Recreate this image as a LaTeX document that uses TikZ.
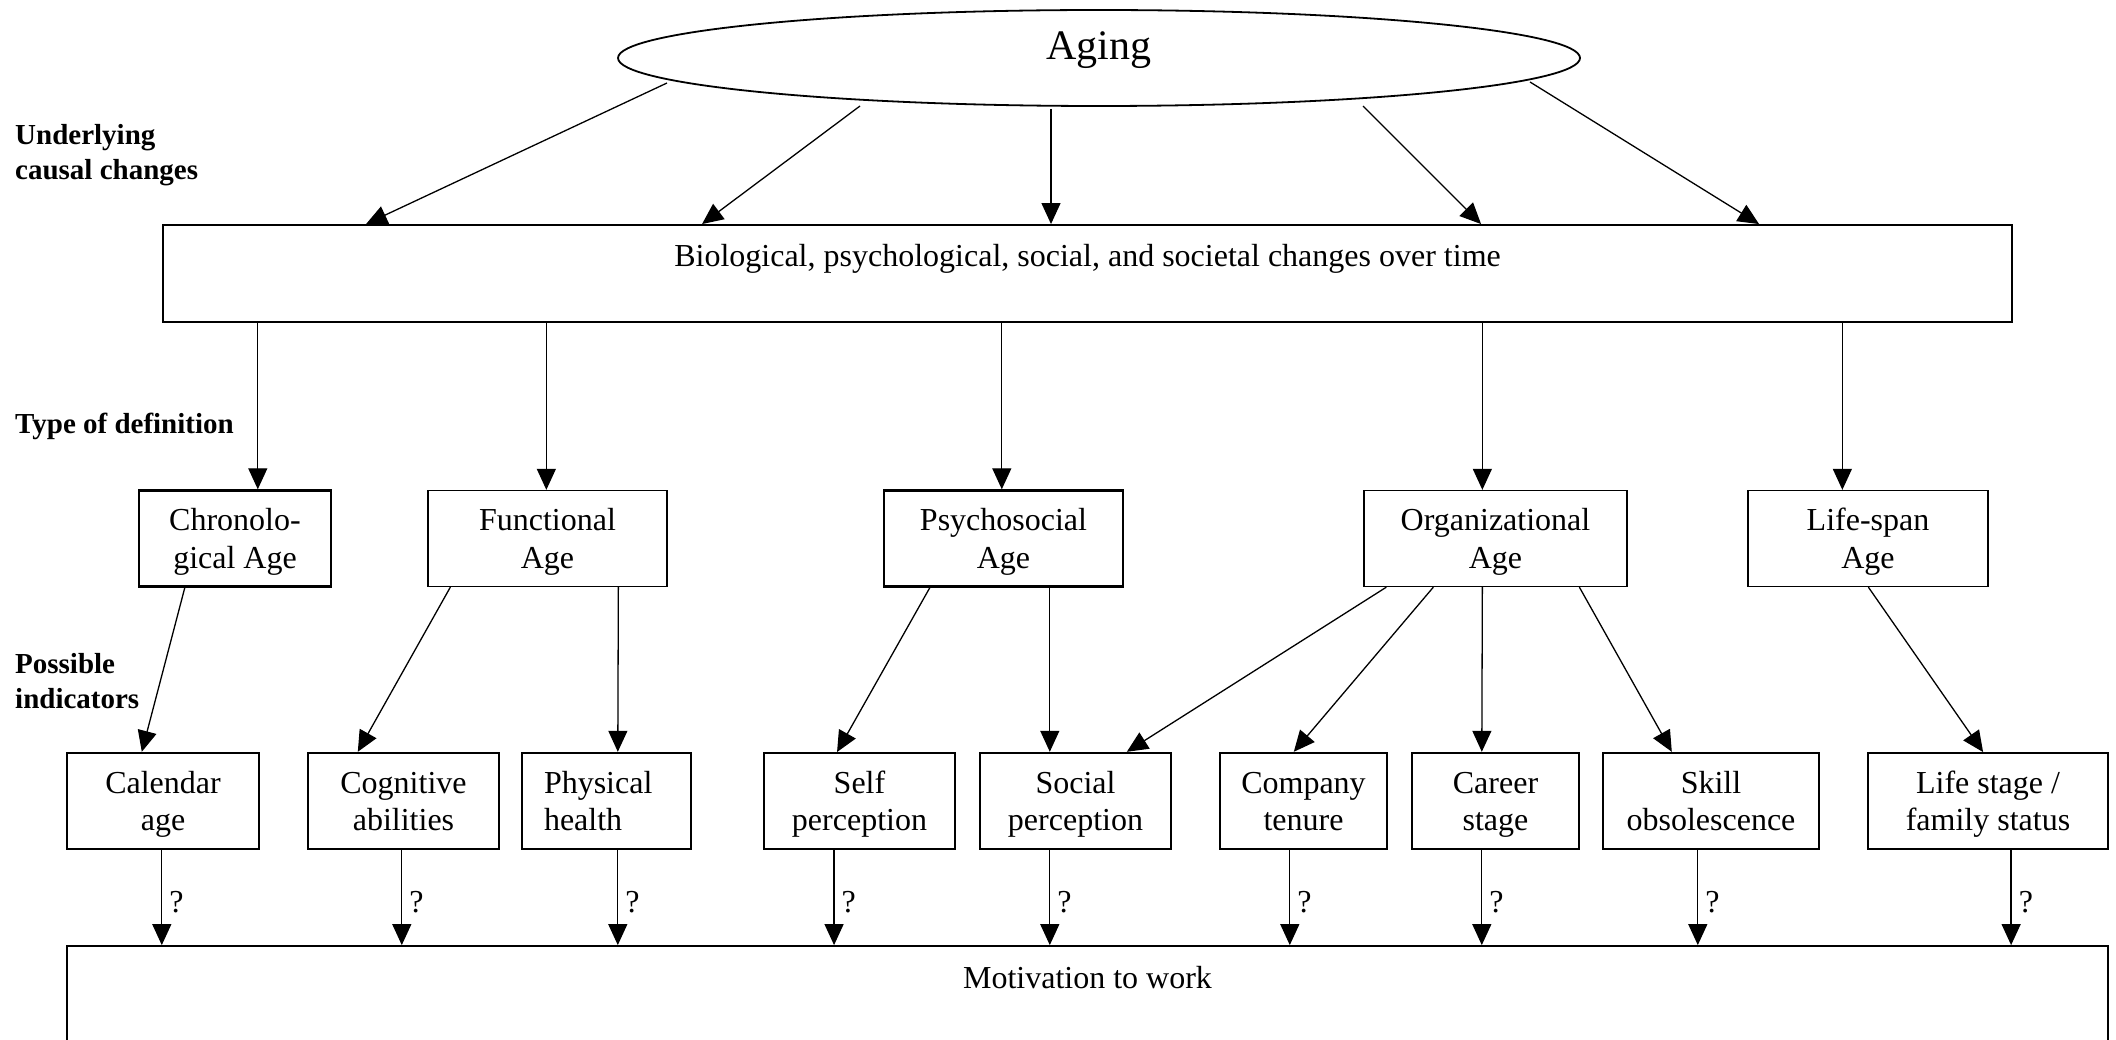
\documentclass[tikz,border=0pt]{standalone}
\usepackage{fontspec}
\setmainfont{Liberation Serif}
\usetikzlibrary{arrows.meta,calc,shapes.geometric}
\newcommand\tstr{\rule{0pt}{29pt}}
\newcommand\istr{\rule{0pt}{31pt}}
\newcommand\dstr{\rule[-9pt]{0pt}{9pt}}
\begin{document}
\begin{tikzpicture}[x=1pt,y=-1pt,
  every node/.style={font=\fontsize{32}{37.8}\selectfont},
  boxthick/.style={draw, line width=2.4pt, inner sep=0pt, align=center, minimum height=96pt},
  boxthin/.style={draw, line width=1.3pt, inner sep=0pt, align=center, minimum height=96pt},
  arr/.style={-{Triangle[length=21pt,width=19pt]}, line width=1.3pt},
  lab/.style={font=\fontsize{29}{35}\selectfont\bfseries, anchor=west, align=left, inner sep=0pt},
  qm/.style={anchor=west, inner sep=0pt, xshift=7pt}
]
\clip (0,0) rectangle (2116,1040);
\fill[white] (0,0) rectangle (2116,1040);

% side labels
\node[lab] (l1) at (15,155) {Underlying\\causal changes};
\node[lab] (l2) at (15,426) {Type of definition};
\node[lab] (l3) at (15,681) {Possible\\indicators};

% top
\node[ellipse, draw, line width=1.8pt, minimum width=962pt, minimum height=96pt, inner sep=0pt,
  text height=14pt, text depth=10pt, font=\fontsize{42}{48}\selectfont] (aging) at (1099,58) {Aging};
\node[draw, line width=1.9pt, inner sep=0pt, minimum width=1849pt, text height=42pt, text depth=55pt] (top) at (1087.5,273.5) {Biological, psychological, social, and societal changes over time};

% type boxes
\node[boxthick, minimum width=192pt] (chrono) at (235,538.5) {\tstr Chronolo-\\gical Age};
\node[boxthin, minimum width=239pt] (func) at (547.5,538.5) {\tstr Functional\\Age};
\node[boxthick, minimum width=239pt] (psych) at (1003.5,538.5) {\tstr Psychosocial\\Age};
\node[boxthin, minimum width=263pt] (org) at (1495.5,538.5) {\tstr Organizational\\Age};
\node[boxthin, minimum width=240pt] (life) at (1868,538.5) {\tstr Life-span\\Age};

% indicator boxes
\node[boxthick, minimum width=192pt] (cal) at (163,801) {\istr Calendar\\age\dstr};
\node[boxthick, minimum width=191pt] (cog) at (403.5,801) {\istr Cognitive\\abilities\dstr};
\node[boxthick, text width=125pt, inner xsep=22pt, align=left] (phys) at (606.5,801) {\istr Physical\\health\dstr};
\node[boxthick, minimum width=191pt, line width=1.9pt] (self) at (859.5,801) {\istr Self\\perception\dstr};
\node[boxthick, minimum width=191pt] (soc) at (1075.5,801) {\istr Social\\perception\dstr};
\node[boxthick, minimum width=167pt] (comp) at (1303.5,801) {\istr Company\\tenure\dstr};
\node[boxthick, minimum width=167pt] (car) at (1495.5,801) {\istr Career\\stage\dstr};
\node[boxthick, minimum width=216pt] (skill) at (1711,801) {\istr Skill\\obsolescence\dstr};
\node[boxthick, minimum width=240pt, line width=1.8pt] (lifest) at (1988,801) {\istr Life stage /\\family status\dstr};

% motivation
\node[draw, line width=1.8pt, inner sep=0pt, minimum width=2041pt, text height=42pt, text depth=82pt] (mot) at (1087.5,1008) {Motivation to work};

% aging -> top
\draw[arr] ($(aging.center)+(-432,25)$) -- ($(top.north west)+(204,0)$);
\draw[arr] ($(aging.center)+(-239,48)$) -- ($(top.north west)+(540,0)$);
\coordinate (a3) at ($(aging.center)+(-48,51)$);
\draw[arr] (a3) -- (a3 |- top.north);
\draw[arr] ($(aging.center)+(264,48)$) -- ($(top.north west)+(1319,0)$);
\draw[arr] ($(aging.center)+(431,24)$) -- ($(top.north west)+(1597,0)$);

% top -> types
\foreach \n/\d in {chrono/120, func/119, psych/119, org/119, life/95}{
  \coordinate (t-\n) at ($(\n.north west)+(\d,0)$);
  \draw[arr] (t-\n |- top.south) -- (t-\n);
}

% types -> indicators
\draw[arr] ($(chrono.south west)+(47,0)$) -- ($(cal.north west)+(76,0)$);
\draw[arr] ($(func.south west)+(23,0)$) -- ($(cog.north west)+(51,0)$);
\draw[arr] ($(func.south west)+(191,0)$) -- ($(phys.north west)+(97,0)$);
\draw[arr] ($(psych.south west)+(47,0)$) -- ($(self.north west)+(74,0)$);
\draw[arr] ($(psych.south west)+(167,0)$) -- ($(soc.north west)+(71,0)$);
\draw[arr] ($(org.south west)+(23,0)$) -- ($(soc.north west)+(148,0)$);
\draw[arr] ($(org.south west)+(70,0)$) -- ($(comp.north west)+(75,0)$);
\draw[arr] ($(org.south west)+(119,0)$) -- ($(car.north west)+(71,0)$);
\draw[arr] ($(org.south west)+(216,0)$) -- ($(skill.north west)+(70,0)$);
\draw[arr] ($(life.south west)+(121,0)$) -- ($(lifest.north west)+(116,0)$);

% indicators -> motivation
\foreach \n/\d in {cal/96, cog/95, phys/97, self/71, soc/71, comp/71, car/71, skill/96, lifest/144}{
  \coordinate (b-\n) at ($(\n.south west)+(\d,0)$);
  \draw[arr] (b-\n) -- (b-\n |- mot.north) node[qm, pos=0.55] {?};
}
\end{tikzpicture}
\end{document}
